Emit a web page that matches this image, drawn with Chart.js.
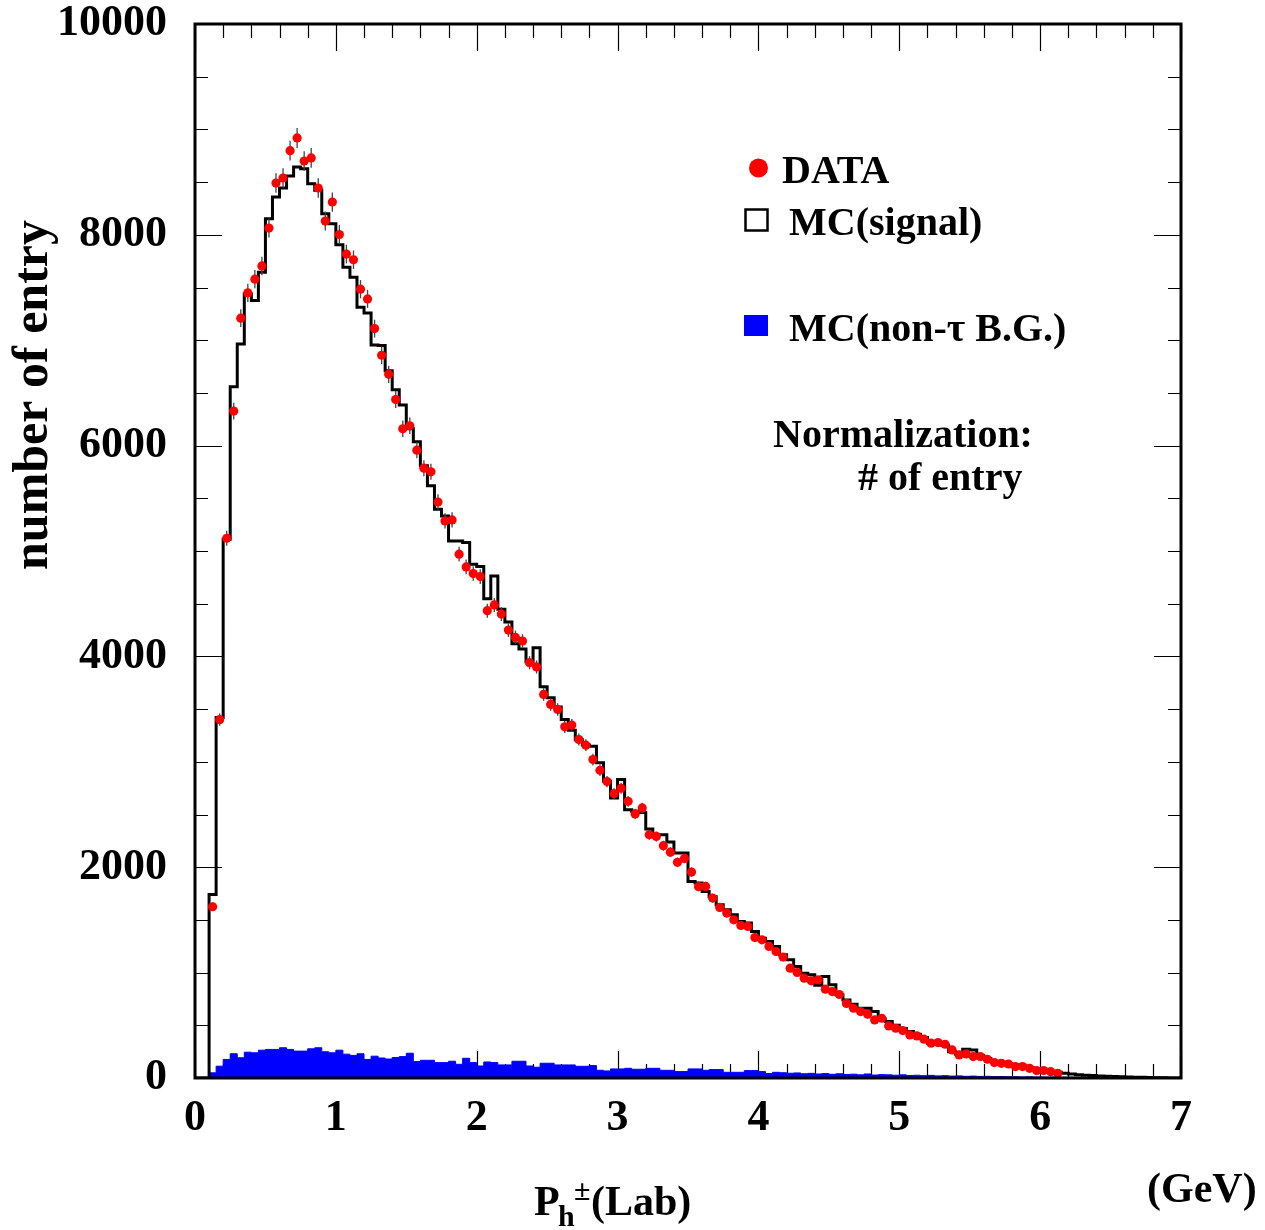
<!DOCTYPE html>
<html><head><meta charset="utf-8">
<script src="https://cdn.jsdelivr.net/npm/chart.js@4.4.1/dist/chart.umd.min.js"></script>
<style>html,body{margin:0;padding:0;background:#fff;}#wrap{width:1265px;height:1230px;}</style>
</head><body><div id="wrap"><canvas id="c" width="1265" height="1230"></canvas></div>
<script>
// ---- data ----
const BIN_WIDTH = 0.05;            // GeV, histogram bins from 0 to 7
const X_MIN = 0, X_MAX = 7, Y_MIN = 0, Y_MAX = 10000;
const xTickValues = [0,1,2,3,4,5,6,7];
const xTickLabels = ['0','1','2','3','4','5','6','7'];
const yTickValues = [0,2000,4000,6000,8000,10000];
const yTickLabels = ['0','2000','4000','6000','8000','10000'];

// MC(signal) bin contents, bins 0.00-0.05 ... 6.95-7.00
const mcSignal = [
 0,0,1740,3420,5112,6559,6964,7439,7376,7645,
 8152,8358,8444,8558,8643,8627,8485,8422,8200,8105,
 7905,7693,7598,7313,7259,6955,6950,6711,6530,6385,
 6160,6036,5810,5618,5397,5333,5096,5096,5080,4874,
 4852,4548,4763,4447,4326,4120,4070,3950,4083,3712,
 3608,3520,3401,3300,3210,3160,3148,2990,2815,2657,
 2831,2545,2530,2520,2363,2309,2309,2240,2135,2135,
 1865,1850,1770,1720,1644,1596,1549,1485,1470,1390,
 1327,1295,1248,1169,1121,1057,995,979,880,963,
 884,790,740,700,662,662,630,560,535,500,
 470,440,415,385,330,320,310,250,225,272,
 265,210,185,160,150,135,125,115,100,85,
 75,65,55,45,38,32,26,24,20,17,
 15,12,10,8,6,5,3,2,1,1
];

// MC(non-tau B.G.) bin contents, same bins
const bgNonTau = [
 0,5,49,112,176,230,192,245,239,264,
 271,271,287,271,255,255,277,287,249,239,
 264,226,214,230,176,207,190,180,194,203,
 235,156,168,168,146,146,159,130,187,146,
 114,152,146,124,124,159,159,114,102,140,
 140,124,124,124,111,111,118,73,67,86,
 86,92,83,83,92,92,73,73,61,61,
 86,86,73,80,80,54,54,54,70,70,
 61,42,54,50,45,48,40,44,38,42,
 35,40,33,36,30,38,28,32,30,26,
 30,24,26,22,25,20,22,18,20,16,
 18,15,16,13,14,12,12,10,11,9,
 9,8,8,7,6,6,5,5,4,4,
 3,3,3,2,2,2,1,1,1,1
];

// DATA entries, bin centres 0.125 ... 6.125
const dataFirstCenter = 0.125;
const dataCounts = [
 1625,3400,5121,6328,7209,7449,7579,7705,8064,8491,
 8539,8798,8919,8700,8729,8444,8130,8311,8003,7817,
 7763,7484,7392,7110,6857,6676,6437,6160,6188,5957,
 5786,5751,5465,5285,5295,4970,4849,4786,4757,4434,
 4488,4402,4250,4180,4146,3940,3900,3639,3544,3496,
 3332,3348,3211,3158,3021,2920,2812,2698,2749,2625,
 2505,2562,2308,2292,2204,2143,2046,2083,1954,1815,
 1818,1707,1618,1565,1501,1447,1438,1333,1311,1248,
 1200,1147,1042,1001,947,922,931,843,820,792,
 707,662,630,605,551,567,494,472,450,409,
 399,368,330,336,320,266,219,228,203,203,
 178,146,139,133,108,108,92,70,70,60,
 45
];

// ---- datasets built from the arrays ----
function histPoints(values){
  const pts = values.map((v,i)=>({x: Math.round(i*BIN_WIDTH*1000)/1000, y: v}));
  pts.push({x: X_MAX, y: values[values.length-1]});
  return pts;
}
const dataPoints = dataCounts.map((v,i)=>({x: Math.round((dataFirstCenter+i*BIN_WIDTH)*1000)/1000, y: v}));

const FONT = "'Liberation Serif','Times New Roman',serif";
const AREA = {left:195, right:1181, top:24, bottom:1078};

const errorBars = {
  id:'errorBars',
  beforeDatasetDraw(chart, args){
    if (args.index !== 0) return;
    const {ctx} = chart, xs = chart.scales.x, ys = chart.scales.y;
    ctx.save(); ctx.strokeStyle = '#444'; ctx.lineWidth = 1.3;
    dataPoints.forEach(p=>{
      const e = Math.sqrt(p.y);
      const px = xs.getPixelForValue(p.x);
      ctx.beginPath();
      ctx.moveTo(px, ys.getPixelForValue(p.y+e));
      ctx.lineTo(px, ys.getPixelForValue(p.y-e));
      ctx.stroke();
    });
    ctx.restore();
  }
};

const innerTicks = {
  id:'innerTicks',
  beforeDatasetsDraw(chart){
    const {ctx, chartArea:a} = chart, xs = chart.scales.x, ys = chart.scales.y;
    ctx.save(); ctx.strokeStyle = '#000'; ctx.lineWidth = 1.2;
    for (let k=0; k<=20; k++){            // y: every 500, long every 2000
      const v = k*500, py = Math.round(ys.getPixelForValue(v))+0.5;
      const len = (v % 2000 === 0) ? 27 : 13;
      ctx.beginPath(); ctx.moveTo(a.left, py); ctx.lineTo(a.left+len, py);
      ctx.moveTo(a.right, py); ctx.lineTo(a.right-len, py); ctx.stroke();
    }
    for (let k=0; k<=35; k++){            // x: every 0.2, long every 1
      const v = k*0.2, px = Math.round(xs.getPixelForValue(v))+0.5;
      const len = (k % 5 === 0) ? 27 : 14;
      ctx.beginPath(); ctx.moveTo(px, a.bottom); ctx.lineTo(px, a.bottom-len);
      ctx.moveTo(px, a.top); ctx.lineTo(px, a.top+len); ctx.stroke();
    }
    ctx.restore();
  }
};

const frameAndText = {
  id:'frameAndText',
  afterDraw(chart){
    const {ctx, chartArea:a} = chart;
    ctx.save();
    ctx.strokeStyle = '#000'; ctx.lineWidth = 3;
    ctx.strokeRect(a.left, a.top, a.right-a.left, a.bottom-a.top);

    ctx.fillStyle = '#000';
    ctx.textBaseline = 'alphabetic';
    // y-axis title
    ctx.save();
    ctx.translate(47, 395); ctx.rotate(-Math.PI/2);
    ctx.font = "bold 50px " + FONT; ctx.textAlign = 'center';
    ctx.fillText('number of entry', 0, 0);
    ctx.restore();

    // x-axis title P_h^±(Lab)
    ctx.textAlign = 'left';
    ctx.font = "bold 42px " + FONT;
    ctx.fillText('P', 534, 1215);
    ctx.font = "bold 30px " + FONT;
    ctx.fillText('h', 558, 1226);
    ctx.fillText('\u00b1', 574, 1200);
    ctx.font = "bold 42px " + FONT;
    ctx.fillText('(Lab)', 591, 1215);
    ctx.fillText('(GeV)', 1147, 1202);

    // legend
    ctx.fillStyle = '#ff0000';
    ctx.beginPath(); ctx.arc(758.5, 168, 9.5, 0, Math.PI*2); ctx.fill();
    ctx.strokeStyle = '#000'; ctx.lineWidth = 2.5;
    ctx.strokeRect(745.5, 209.5, 22, 21);
    ctx.fillStyle = '#0000ff';
    ctx.fillRect(744, 315, 24, 21);

    ctx.fillStyle = '#000';
    ctx.font = "bold 40px " + FONT;
    ctx.fillText('DATA', 782, 183);
    ctx.fillText('MC(signal)', 789, 235);
    ctx.fillText('MC(non-\u03c4 B.G.)', 789, 341);
    ctx.fillText('Normalization:', 773, 447);
    ctx.fillText('# of entry', 858, 490);
    ctx.restore();
  }
};

new Chart(document.getElementById('c'), {
  type: 'line',
  data: {
    datasets: [
      { label:'DATA', data: dataPoints, showLine:false, pointRadius:4.6, pointHoverRadius:4.6,
        pointBackgroundColor:'#ff0000', pointBorderWidth:0, borderColor:'#ff0000' },
      { label:'MC(signal)', data: histPoints(mcSignal), stepped:true, borderColor:'#000',
        borderWidth:3, pointRadius:0, fill:false, borderJoinStyle:'miter', borderCapStyle:'butt' },
      { label:'MC(non-\u03c4 B.G.)', data: histPoints(bgNonTau), stepped:true, borderColor:'#0000ff',
        borderWidth:1, backgroundColor:'#0000ff', pointRadius:0, fill:'origin' }
    ]
  },
  options: {
    responsive:false, animation:false, devicePixelRatio:1,
    layout:{ padding:{ left:0, right:1265-AREA.right, top:AREA.top, bottom:0 } },
    plugins:{ legend:{display:false}, tooltip:{enabled:false} },
    scales:{
      x:{ type:'linear', min:X_MIN, max:X_MAX,
          afterBuildTicks(s){ s.ticks = xTickValues.map(v=>({value:v})); },
          ticks:{ font:{family:FONT, weight:'bold', size:44}, color:'#000', padding:14, maxRotation:0, autoSkip:false,
                  callback:(v)=>xTickLabels[xTickValues.indexOf(v)] },
          grid:{ display:false, drawTicks:false }, border:{ display:false },
          afterFit(s){ s.height = 1230 - AREA.bottom; s.paddingLeft = 0; s.paddingRight = 0; } },
      y:{ type:'linear', min:Y_MIN, max:Y_MAX,
          afterBuildTicks(s){ s.ticks = yTickValues.map(v=>({value:v})); },
          ticks:{ font:{family:FONT, weight:'bold', size:44}, color:'#000', padding:28,
                  callback:(v)=>yTickLabels[yTickValues.indexOf(v)] },
          grid:{ display:false, drawTicks:false }, border:{ display:false },
          afterFit(s){ s.width = AREA.left; s.paddingTop = 0; s.paddingBottom = 0; } }
    }
  },
  plugins:[errorBars, innerTicks, frameAndText]
});
</script></body></html>
